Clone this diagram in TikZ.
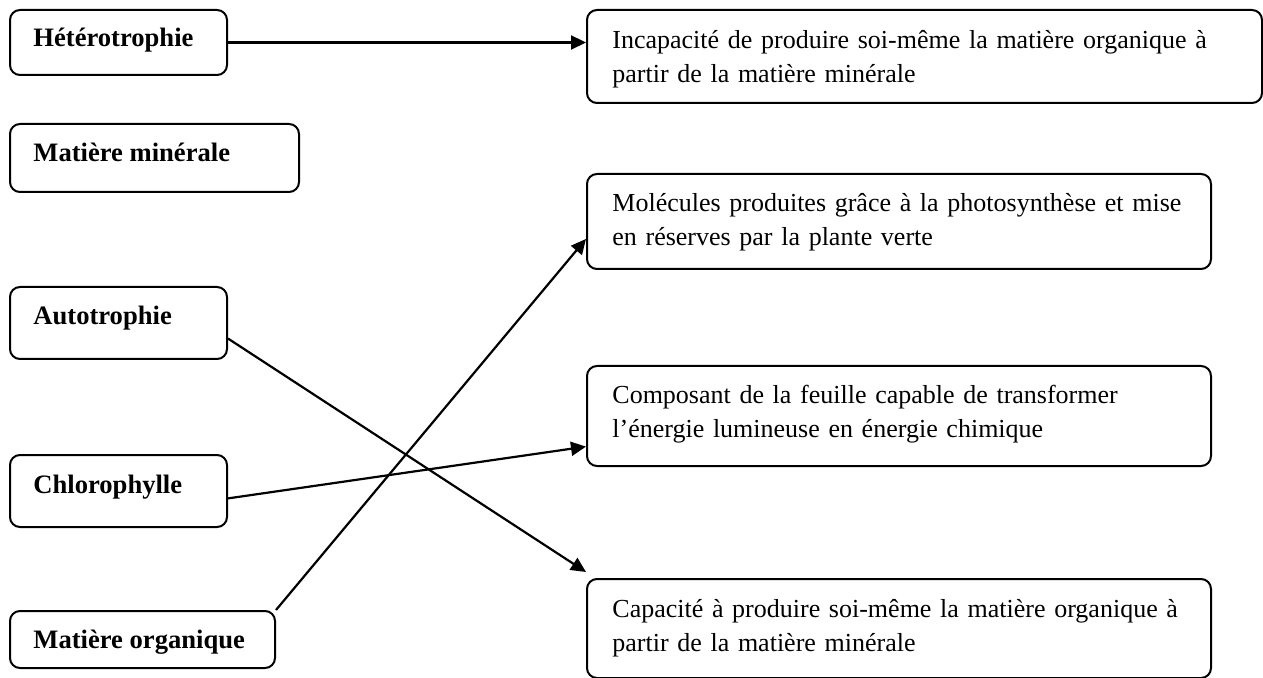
\documentclass[tikz,border=0pt]{standalone}
\usepackage{fontspec}
\setmainfont{Liberation Serif}
\usetikzlibrary{arrows.meta,calc}
\begin{document}
\begin{tikzpicture}[x=0.5pt,y=-0.5pt,
  box/.style={draw,line width=1pt,rounded corners=5pt,anchor=north west,inner sep=0pt},
  lbl/.style={font=\fontsize{13.3}{17}\selectfont\bfseries,anchor=base west,inner sep=0pt},
  txt/.style={font=\fontsize{13}{17}\selectfont,anchor=base west,inner sep=0pt,text width=320pt,align=left},
  conn/.style={line width=1.1pt,-{Triangle[length=7.5pt,width=7pt]}}]
\useasboundingbox (0,0) rectangle (1263,678);
% left boxes
\node[box,minimum width=108.5pt,minimum height=32.5pt] (het) at (9,9) {};
\node[box,minimum width=144.5pt,minimum height=34pt] (min) at (9,123) {};
\node[box,minimum width=108.5pt,minimum height=36pt] (auto) at (9,286) {};
\node[box,minimum width=108.5pt,minimum height=36pt] (chl) at (9,454) {};
\node[box,minimum width=132.5pt,minimum height=28.5pt] (org) at (9,610) {};
\node[lbl] (hetT) at (33,47) {Hétérotrophie};
\node[lbl] (minT) at (33,162) {Matière minérale};
\node[lbl] (autoT) at (33,325) {Autotrophie};
\node[lbl] (chlT) at (33,493) {Chlorophylle};
\node[lbl] (orgT) at (33,648) {Matière organique};
% right boxes
\node[box,minimum width=337.5pt,minimum height=46.5pt] (inc) at (586,9) {};
\node[box,minimum width=312pt,minimum height=47.5pt] (mol) at (586,173) {};
\node[box,minimum width=312pt,minimum height=50pt] (comp) at (586,365) {};
\node[box,minimum width=312pt,minimum height=49.5pt] (cap) at (586,578) {};
\node[txt] (incT) at (612,49) {Incapacité de produire soi-même la matière organique à\\partir de la matière minérale};
\node[txt] (molT) at (612,212) {Molécules produites grâce à la photosynthèse et mise\\en réserves par la plante verte};
\node[txt] (compT) at (612,404) {Composant de la feuille capable de transformer\\l’énergie lumineuse en énergie chimique};
\node[txt] (capT) at (612,617) {Capacité à produire soi-même la matière organique à\\partir de la matière minérale};
% connectors
\draw[conn] (het.east) -- (het.east -| inc.west);
\draw[conn] ($(auto.north east)!0.71!(auto.south east)$) -- ($(cap.north west)+(0,-6)$);
\draw[conn] ($(chl.north east)!0.6!(chl.south east)$) -- ($(comp.north west)!0.8!(comp.south west)$);
\draw[conn] (org.north east) -- ($(mol.north west)!0.68!(mol.south west)$);
\end{tikzpicture}
\end{document}
